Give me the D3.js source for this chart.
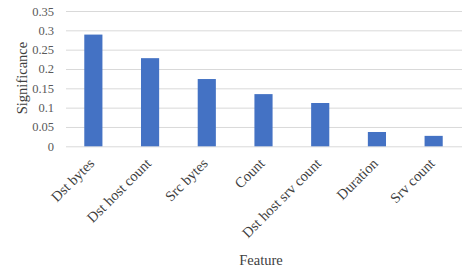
<!DOCTYPE html>
<html><head><meta charset="utf-8">
<script src="https://cdn.jsdelivr.net/npm/d3@7"></script>
<style>body{margin:0;background:#fff}</style>
</head><body>
<svg id="c" width="472" height="280"></svg>
<script>
const categories = ["Dst bytes","Dst host count","Src bytes","Count","Dst host srv count","Duration","Srv count"];
const values = [0.289,0.228,0.174,0.135,0.112,0.037,0.027];
const yTicks = [0,0.05,0.1,0.15,0.2,0.25,0.3,0.35];
const yTickLabels = ["0","0.05","0.1","0.15","0.2","0.25","0.3","0.35"];

const svg = d3.select("#c");
const x = d3.scaleBand().domain(categories).range([65, 462]).paddingInner(0.68).paddingOuter(0.34);
const y = d3.scaleLinear().domain([0,0.35]).range([146.3, 11]);
const font = "'Liberation Serif','Times New Roman',serif";

const ya = svg.append("g").attr("transform","translate(66,0)")
  .call(d3.axisLeft(y).tickValues(yTicks).tickFormat((d,i)=>yTickLabels[i]).tickSize(-396).tickPadding(12));
ya.select(".domain").remove();
ya.selectAll(".tick line").attr("stroke","#d9d9d9").attr("stroke-width",1);
ya.selectAll(".tick text").attr("fill","#595959").style("font-family",font).style("font-size","12.5px");

svg.append("g").selectAll("rect").data(values).enter().append("rect")
  .attr("x",(d,i)=>x(categories[i])).attr("width",x.bandwidth())
  .attr("y",d=>y(d)).attr("height",d=>y(0)-y(d)).attr("fill","#4472c4");

const xa = svg.append("g").attr("transform","translate(0,146.3)")
  .call(d3.axisBottom(x).tickSize(0).tickPadding(0));
xa.select(".domain").remove();
xa.selectAll(".tick text").attr("fill","#404040").style("font-family",font).style("font-size","14.5px")
  .attr("text-anchor","end").attr("dy",null).attr("y",0)
  .attr("transform","translate(2,18) rotate(-45)");

svg.append("text").attr("transform","translate(27,78) rotate(-90)").attr("text-anchor","middle")
  .attr("fill","#404040").style("font-family",font).style("font-size","14.5px").text("Significance");
svg.append("text").attr("x",261).attr("y",265).attr("text-anchor","middle")
  .attr("fill","#404040").style("font-family",font).style("font-size","14.5px").text("Feature");
</script>
</body></html>
